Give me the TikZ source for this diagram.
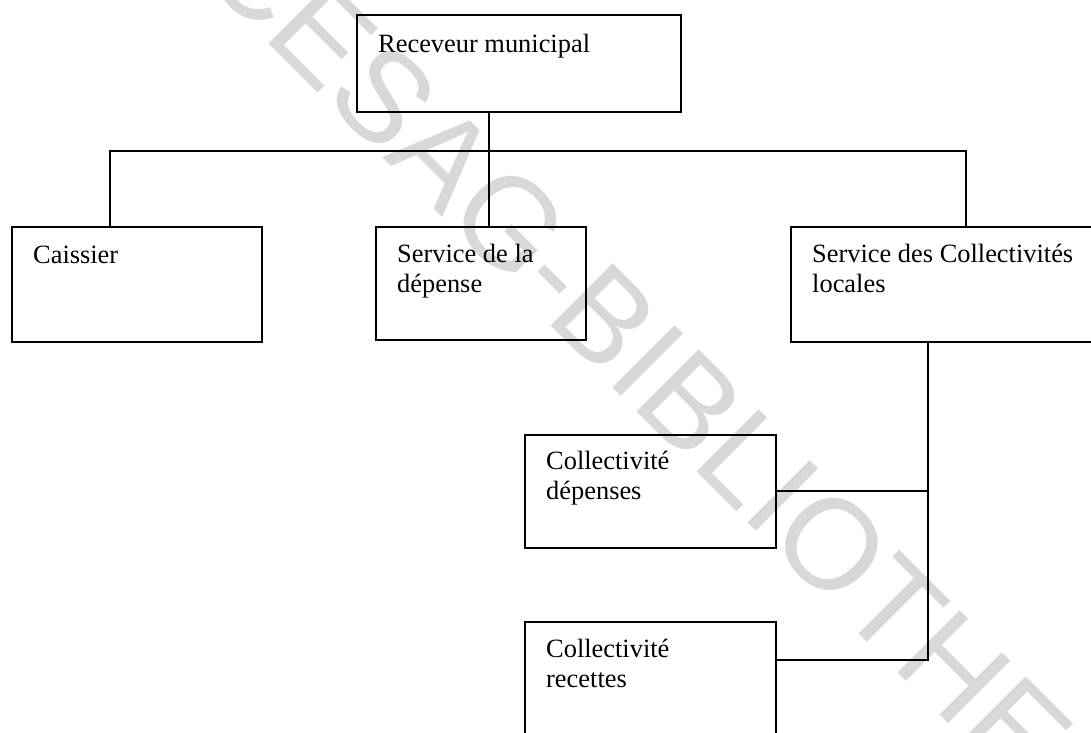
\documentclass[tikz,border=0pt]{standalone}
\usepackage{fontspec}
\setmainfont{Liberation Serif}
\newfontfamily\wmfont{Liberation Sans}
\definecolor{wmgray}{RGB}{216,216,216}
\tikzset{
  orgbox/.style={draw=black, line width=1.1pt, rectangle, inner sep=0pt, outer sep=0pt, anchor=north west},
  orglabel/.style={anchor=base west, inner sep=0pt, font=\fontsize{26.4}{30.5}\selectfont},
  link/.style={draw=black, line width=1.1pt},
  stamp/.style={rotate=-45, anchor=base west, inner sep=0pt, text=wmgray, font=\wmfont\fontsize{128}{128}\selectfont}
}
\newcommand{\lbl}[1]{\begin{tabular}[t]{@{}l@{}}#1\end{tabular}}
\begin{document}
\begin{tikzpicture}[x=1pt, y=-1pt]
  \useasboundingbox (0,0) rectangle (1091,732);
  \clip (0,0) rectangle (1091,732);
  \fill[white] (0,0) rectangle (1091,732);

  % library stamp running diagonally across the chart
  \node[stamp] (stampmark) at (196.5,-28.5) {CESAG-BIBLIOTHEQUE};

  % boxes
  \node[orgbox, minimum width=324pt, minimum height=97pt]  (rec)  at (357,15)  {};
  \node[orgbox, minimum width=250pt, minimum height=115pt] (cais) at (12,227)  {};
  \node[orgbox, minimum width=210pt, minimum height=113pt] (sdep) at (376,227) {};
  \node[orgbox, minimum width=305pt, minimum height=115pt] (scl)  at (791,227) {};
  \node[orgbox, minimum width=251pt, minimum height=113pt] (cdep) at (525,435) {};
  \node[orgbox, minimum width=251pt, minimum height=118pt] (crec) at (525,622) {};

  % box texts
  \node[orglabel] (trec)  at ([xshift=21pt,yshift=-37pt]rec.north west)  {\lbl{Receveur municipal}};
  \node[orglabel] (tcais) at ([xshift=21pt,yshift=-36pt]cais.north west) {\lbl{Caissier}};
  \node[orglabel] (tsdep) at ([xshift=21pt,yshift=-35pt]sdep.north west) {\lbl{Service de la\\dépense}};
  \node[orglabel] (tscl)  at ([xshift=21pt,yshift=-35pt]scl.north west)  {\lbl{Service des Collectivités\\locales}};
  \node[orglabel] (tcdep) at ([xshift=21pt,yshift=-34pt]cdep.north west) {\lbl{Collectivité\\dépenses}};
  \node[orglabel] (tcrec) at ([xshift=21pt,yshift=-35pt]crec.north west) {\lbl{Collectivité\\recettes}};

  % junction points of the connectors
  \coordinate (trunk) at (489,151);
  \coordinate (busL)  at (110,151);
  \coordinate (busR)  at (966,151);
  \coordinate (tapD)  at (928,491);
  \coordinate (tapR)  at (928,660);

  % first level
  \draw[link] (trunk |- rec.south) -- (trunk |- sdep.north);
  \draw[link] (busL |- cais.north) -- (busL) -- (busR) -- (busR |- scl.north);

  % collectivites branch
  \draw[link] (tapD |- scl.south) -- (tapR) -- (tapR -| crec.east);
  \draw[link] (tapD) -- (tapD -| cdep.east);
\end{tikzpicture}
\end{document}
